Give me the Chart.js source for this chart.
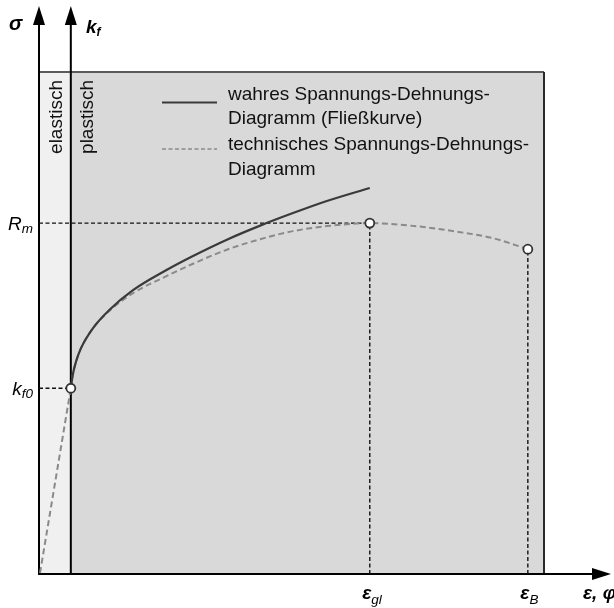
<!DOCTYPE html>
<html>
<head>
<meta charset="utf-8">
<script src="https://cdn.jsdelivr.net/npm/chart.js@4.4.0/dist/chart.umd.min.js"></script>
<style>
  html, body { margin: 0; padding: 0; background: #fff; }
  #wrap { width: 614px; height: 608px; }
</style>
</head>
<body>
<div id="wrap"><canvas id="chart" width="614" height="608"></canvas></div>
<script>
// wahres Spannungs-Dehnungs-Diagramm (Fließkurve)
const flowX = [6.3, 6.67, 7.33, 8.32, 10.63, 13.92, 18.55, 25.15, 30.4, 37.2, 43.8, 50.3, 57.0, 65.5];
const flowY = [37.0, 39.6, 42.3, 45.0, 48.9, 52.6, 56.5, 60.5, 63.3, 66.6, 69.4, 71.9, 74.3, 76.9];

// technisches Spannungs-Dehnungs-Diagramm
const elasticX = [0.2, 6.3];
const elasticY = [0.2, 37.0];
const techX = [6.3, 6.67, 7.33, 8.32, 10.63, 13.92, 18.55, 25.15, 30.5, 37.2, 43.8, 50.3, 57.0, 65.5, 73.5, 83.4, 89.9, 96.8];
const techY = [37.0, 39.6, 42.3, 45.0, 48.9, 52.4, 55.9, 59.3, 61.8, 64.6, 66.7, 68.3, 69.3, 69.9, 69.4, 68.1, 66.9, 64.7];

// markante Punkte: k_f0, R_m, Bruch
const pointX = [6.3, 65.5, 96.8];
const pointY = [37.0, 69.9, 64.7];

// Achsbeschriftungen (Haupttext, Index)
const yTickValues = [37.0, 69.9];
const yTickLabels = [['k', 'f0'], ['R', 'm']];
const xTickValues = [65.5, 96.8];
const xTickLabels = [['ε', 'gl'], ['ε', 'B']];

const legendLabels = [
  ['wahres Spannungs-Dehnungs-', 'Diagramm (Fließkurve)'],
  ['technisches Spannungs-Dehnungs-', 'Diagramm']
];

const FONT = '"Liberation Sans", Arial, sans-serif';
const SOLID = '#3a3a3a';
const DASHED = '#8a8a8a';

function pts(xs, ys) {
  return xs.map((x, i) => ({ x: x, y: ys[i] }));
}

function refLine(data) {
  return {
    data: data, showLine: true, borderColor: '#111', borderWidth: 1.4,
    borderDash: [4, 2.5], pointRadius: 0, tension: 0
  };
}

// Hintergrund, Achsen, Pfeile
const decor = {
  id: 'decor',
  beforeDatasetsDraw(chart) {
    const ctx = chart.ctx;
    const a = chart.chartArea;
    const xs = chart.scales.x;
    const xk = xs.getPixelForValue(pointX[0]);
    ctx.save();
    ctx.fillStyle = '#f0f0f0';
    ctx.fillRect(a.left, a.top, xk - a.left, a.bottom - a.top);
    ctx.fillStyle = '#d9d9d9';
    ctx.fillRect(xk, a.top, a.right - xk, a.bottom - a.top);

    // Rahmen
    ctx.lineWidth = 2;
    ctx.strokeStyle = '#5a5a5a';
    ctx.beginPath();
    ctx.moveTo(a.left, a.top);
    ctx.lineTo(a.right, a.top);
    ctx.stroke();
    ctx.strokeStyle = '#2a2a2a';
    ctx.beginPath();
    ctx.moveTo(a.right, a.top);
    ctx.lineTo(a.right, a.bottom);
    ctx.stroke();

    // Achsen
    ctx.strokeStyle = '#000';
    ctx.fillStyle = '#000';
    ctx.lineWidth = 2;
    [a.left, xk].forEach(x => {
      ctx.beginPath();
      ctx.moveTo(x, a.bottom + 1);
      ctx.lineTo(x, 22);
      ctx.stroke();
      ctx.beginPath();
      ctx.moveTo(x, 6);
      ctx.lineTo(x - 6, 25);
      ctx.lineTo(x + 6, 25);
      ctx.closePath();
      ctx.fill();
    });
    ctx.beginPath();
    ctx.moveTo(a.left - 1, a.bottom);
    ctx.lineTo(596, a.bottom);
    ctx.stroke();
    ctx.beginPath();
    ctx.moveTo(611, a.bottom);
    ctx.lineTo(592, a.bottom - 6);
    ctx.lineTo(592, a.bottom + 6);
    ctx.closePath();
    ctx.fill();

    // Legende
    ctx.lineWidth = 2;
    ctx.strokeStyle = SOLID;
    ctx.beginPath();
    ctx.moveTo(162, 102.5);
    ctx.lineTo(217, 102.5);
    ctx.stroke();
    ctx.strokeStyle = DASHED;
    ctx.lineWidth = 1.5;
    ctx.setLineDash([4, 2.5]);
    ctx.beginPath();
    ctx.moveTo(162, 149);
    ctx.lineTo(217, 149);
    ctx.stroke();
    ctx.setLineDash([]);
    ctx.fillStyle = '#111';
    ctx.font = '19px ' + FONT;
    ctx.textBaseline = 'alphabetic';
    ctx.textAlign = 'left';
    const baselines = [[100, 124], [150, 175]];
    legendLabels.forEach((lines, i) => {
      lines.forEach((t, j) => ctx.fillText(t, 228, baselines[i][j]));
    });

    // elastisch / plastisch
    [['elastisch', 62], ['plastisch', xk + 22.5]].forEach(([t, x]) => {
      ctx.save();
      ctx.translate(x, a.top + 8);
      ctx.rotate(-Math.PI / 2);
      ctx.textAlign = 'right';
      ctx.fillText(t, 0, 0);
      ctx.restore();
    });
    ctx.restore();
  },
  afterDraw(chart) {
    const ctx = chart.ctx;
    const xs = chart.scales.x;
    const ys = chart.scales.y;
    ctx.save();
    ctx.fillStyle = '#000';
    ctx.textBaseline = 'alphabetic';
    ctx.textAlign = 'left';

    function sub(main, idx, x, y, font, subFont, dy) {
      ctx.font = font;
      ctx.fillText(main, x, y);
      const w = ctx.measureText(main).width;
      ctx.font = subFont;
      ctx.fillText(idx, x + w, y + dy);
      return w + ctx.measureText(idx).width;
    }

    // Achsentitel
    ctx.font = 'italic bold 20px ' + FONT;
    ctx.fillText('σ', 9, 30);
    sub('k', 'f', 86, 33, 'italic bold 19px ' + FONT, 'italic bold 12px ' + FONT, 3);
    ctx.font = 'italic bold 19px ' + FONT;
    ctx.fillText('ε, φ', 583, 599);

    // y-Marken
    yTickLabels.forEach((lab, i) => {
      const y = ys.getPixelForValue(yTickValues[i]);
      ctx.font = 'italic 19px ' + FONT;
      const w1 = ctx.measureText(lab[0]).width;
      ctx.font = 'italic 13.5px ' + FONT;
      const w2 = ctx.measureText(lab[1]).width;
      sub(lab[0], lab[1], 33 - w1 - w2, y + 6.5, 'italic 19px ' + FONT, 'italic 13.5px ' + FONT, 3.5);
    });

    // x-Marken
    xTickLabels.forEach((lab, i) => {
      const x = xs.getPixelForValue(xTickValues[i]);
      sub(lab[0], lab[1], x - 7.5, 599, 'italic bold 19px ' + FONT, 'italic 13.5px ' + FONT, 4.5);
    });
    ctx.restore();
  }
};

new Chart(document.getElementById('chart'), {
  type: 'scatter',
  data: {
    datasets: [
      {
        data: pts(pointX, pointY), showLine: false, pointRadius: 4.5,
        pointBackgroundColor: '#fff', pointBorderColor: '#333', pointBorderWidth: 1.8
      },
      {
        data: pts(flowX, flowY), showLine: true, borderColor: SOLID, borderWidth: 2.2,
        cubicInterpolationMode: 'monotone', pointRadius: 0
      },
      {
        data: pts(techX, techY), showLine: true, borderColor: DASHED, borderWidth: 2,
        borderDash: [6, 3.5], cubicInterpolationMode: 'monotone', pointRadius: 0
      },
      {
        data: pts(elasticX, elasticY), showLine: true, borderColor: DASHED, borderWidth: 2,
        borderDash: [6, 3.5], pointRadius: 0
      },
      refLine([{ x: 0, y: yTickValues[0] }, { x: pointX[0], y: yTickValues[0] }]),
      refLine([{ x: 0, y: yTickValues[1] }, { x: pointX[1], y: yTickValues[1] }]),
      refLine([{ x: xTickValues[0], y: 0 }, { x: xTickValues[0], y: pointY[1] }]),
      refLine([{ x: xTickValues[1], y: 0 }, { x: xTickValues[1], y: pointY[2] }])
    ]
  },
  options: {
    responsive: false,
    animation: false,
    layout: { padding: { left: 39, right: 70, top: 72, bottom: 34 } },
    plugins: { legend: { display: false }, tooltip: { enabled: false } },
    scales: {
      x: { type: 'linear', min: 0, max: 100, display: false },
      y: { type: 'linear', min: 0, max: 100, display: false }
    }
  },
  plugins: [decor]
});
</script>
</body>
</html>
